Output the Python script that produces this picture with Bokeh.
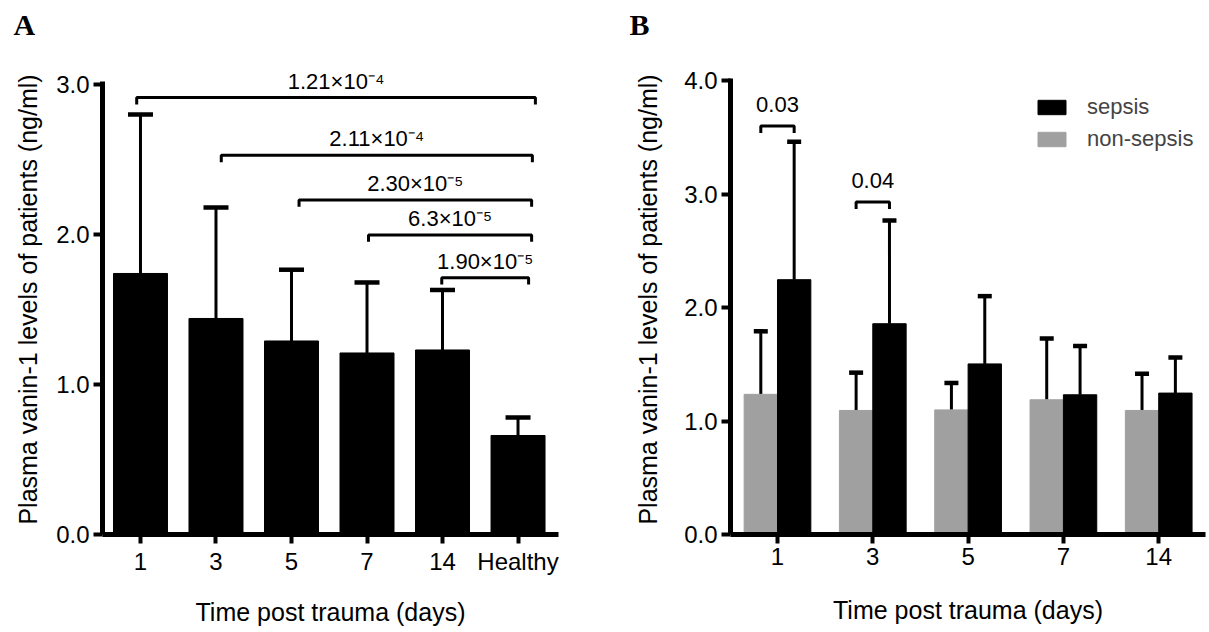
import numpy as np
from bokeh.plotting import figure
from bokeh.models import (Range1d, FixedTicker, ColumnDataSource, Whisker, TeeHead,
                          LabelSet, Title, Legend, LegendItem, PrintfTickFormatter)
from bokeh.layouts import row
from bokeh.embed import file_html
from bokeh.resources import INLINE
from bokeh.core.properties import value

FONT = "Liberation Sans"
GREY = "#a0a0a0"

# ---------------- Panel A data ----------------
cats_a = ["1", "3", "5", "7", "14", "Healthy"]
mean_a = [1.74, 1.44, 1.29, 1.21, 1.23, 0.66]
sd_a = [1.06, 0.74, 0.475, 0.47, 0.40, 0.12]

brk_a_labels = ["1.21×10⁻⁴", "2.11×10⁻⁴", "2.30×10⁻⁵", "6.3×10⁻⁵", "1.90×10⁻⁵"]
brk_a_left = [-0.05, 1.07, 2.10, 3.02, 3.99]
brk_a_right = [5.23, 5.19, 5.18, 5.18, 5.14]
brk_a_y = [2.913, 2.528, 2.23, 1.997, 1.712]

# ---------------- Panel B data ----------------
cats_b = ["1", "3", "5", "7", "14"]
sepsis = [2.245, 1.857, 1.503, 1.231, 1.246]
sepsis_sd = [1.215, 0.91, 0.597, 0.429, 0.313]
nonsepsis = [1.235, 1.093, 1.098, 1.187, 1.093]
nonsepsis_sd = [0.555, 0.333, 0.237, 0.54, 0.324]

brk_b_labels = ["0.03", "0.04"]
brk_b_group = [0, 1]
brk_b_y = [3.60, 2.93]


def style_axes(p, xlabel, ylabel, xticks, xlabels, yticks, ylab_standoff, xlab_standoff):
    for ax in (p.xaxis[0], p.yaxis[0]):
        ax.axis_line_width = 5
        ax.axis_line_color = "black"
        ax.major_tick_line_width = 4
        ax.major_tick_line_color = "black"
        ax.major_tick_out = 9
        ax.major_tick_in = 0
        ax.minor_tick_line_color = None
        ax.major_label_text_font = FONT
        ax.major_label_text_font_size = "24px"
        ax.major_label_text_color = "black"
        ax.major_label_text_line_height = 1.0
        ax.axis_label_text_font = FONT
        ax.axis_label_text_font_size = "25px"
        ax.axis_label_text_font_style = "normal"
        ax.axis_label_text_color = "black"
        ax.axis_label_text_line_height = 1.0
    p.xaxis[0].ticker = FixedTicker(ticks=xticks)
    p.xaxis[0].major_label_overrides = {float(t): l for t, l in zip(xticks, xlabels)}
    p.xaxis[0].major_label_standoff = 4
    p.xaxis[0].axis_label = xlabel
    p.xaxis[0].axis_label_standoff = xlab_standoff
    p.yaxis[0].ticker = FixedTicker(ticks=yticks)
    p.yaxis[0].formatter = PrintfTickFormatter(format="%.1f")
    p.yaxis[0].major_label_standoff = 4
    p.yaxis[0].axis_label = ylabel
    p.yaxis[0].axis_label_standoff = ylab_standoff
    p.xgrid.grid_line_color = None
    p.ygrid.grid_line_color = None
    p.outline_line_color = None
    p.background_fill_color = "white"
    p.border_fill_color = "white"


def panel_letter(p, letter, offset, gap):
    # blank spacer title next to the frame, then the panel letter further out
    p.add_layout(Title(text=" ", text_font_size="2px", standoff=gap), "above")
    p.add_layout(Title(text=letter, align="left", offset=offset, vertical_align="bottom",
                       standoff=0, text_font="Liberation Serif", text_font_style="bold",
                       text_font_size="30px", text_color="black"), "above")


YLABEL = "Plasma vanin-1 levels of patients (ng/ml)"
XLABEL = "Time post trauma (days)"
TOP, BOTTOM = 64, 97      # shared frame borders (frames are aligned in the row)

# ---------------- Panel A ----------------
pa = figure(width=600, height=631, output_backend="svg", toolbar_location=None,
            x_range=Range1d(-0.503, 5.536), y_range=Range1d(0, 3.133),
            min_border_left=102, min_border_right=42, min_border_top=TOP,
            min_border_bottom=BOTTOM)
xa = list(range(len(cats_a)))
src_a = ColumnDataSource(dict(x=xa, mean=mean_a,
                              upper=[m + s for m, s in zip(mean_a, sd_a)]))
pa.vbar(x="x", top="mean", width=0.715, source=src_a, fill_color="black", line_color="black")
pa.add_layout(Whisker(source=src_a, base="x", lower="mean", upper="upper",
                      line_width=3, line_color="black",
                      upper_head=TeeHead(size=25, line_width=4.5, line_color="black"),
                      lower_head=None))
drop_a = 0.046
pa.multi_line(xs=[[l, l, r, r] for l, r in zip(brk_a_left, brk_a_right)],
              ys=[[y - drop_a, y, y, y - drop_a] for y in brk_a_y],
              line_width=3, line_color="black")
lab_a = ColumnDataSource(dict(x=[(l + r) / 2 for l, r in zip(brk_a_left, brk_a_right)],
                              y=brk_a_y, text=brk_a_labels))
pa.add_layout(LabelSet(x="x", y="y", text="text", source=lab_a, y_offset=9,
                       text_align="center", text_baseline="alphabetic",
                       text_font=value(FONT), text_font_size=value("22px"),
                       text_color="black"))
style_axes(pa, XLABEL, YLABEL, xa, cats_a, [0, 1, 2, 3], 11, 20)
pa.yaxis[0].bounds = (0, 3.02)
panel_letter(pa, "A", -89, 20)

# ---------------- Panel B ----------------
pb = figure(width=607, height=631, output_backend="svg", toolbar_location=None,
            x_range=Range1d(-0.493, 4.491), y_range=Range1d(0, 4.141),
            min_border_left=130, min_border_right=2, min_border_top=TOP,
            min_border_bottom=BOTTOM)
xb = np.arange(len(cats_b))
bw = 0.35
src_s = ColumnDataSource(dict(x=xb + bw / 2, mean=sepsis,
                              upper=[m + s for m, s in zip(sepsis, sepsis_sd)]))
src_n = ColumnDataSource(dict(x=xb - bw / 2, mean=nonsepsis,
                              upper=[m + s for m, s in zip(nonsepsis, nonsepsis_sd)]))
rn = pb.vbar(x="x", top="mean", width=bw, source=src_n, fill_color=GREY, line_color=GREY)
rs = pb.vbar(x="x", top="mean", width=bw, source=src_s, fill_color="black", line_color="black")
for src in (src_n, src_s):
    pb.add_layout(Whisker(source=src, base="x", lower="mean", upper="upper",
                          line_width=3, line_color="black",
                          upper_head=TeeHead(size=14, line_width=4.5, line_color="black"),
                          lower_head=None))
drop_b = 0.062
bl = [g - bw / 2 for g in brk_b_group]
br = [g + bw / 2 for g in brk_b_group]
pb.multi_line(xs=[[l, l, r, r] for l, r in zip(bl, br)],
              ys=[[y - drop_b, y, y, y - drop_b] for y in brk_b_y],
              line_width=3, line_color="black")
lab_b = ColumnDataSource(dict(x=list(map(float, brk_b_group)), y=brk_b_y, text=brk_b_labels))
pb.add_layout(LabelSet(x="x", y="y", text="text", source=lab_b, y_offset=14,
                       text_align="center", text_baseline="alphabetic",
                       text_font=value(FONT), text_font_size=value("22px"),
                       text_color="black"))
style_axes(pb, XLABEL, YLABEL, list(range(len(cats_b))), cats_b, [0, 1, 2, 3, 4], 19, 28)
pb.yaxis[0].bounds = (0, 4.02)
panel_letter(pb, "B", -101, 20)
legend = Legend(items=[LegendItem(label="sepsis", renderers=[rs]),
                       LegendItem(label="non-sepsis", renderers=[rn])],
                location=(304, 382), padding=0, margin=0, spacing=6,
                glyph_width=35, glyph_height=18, label_height=26, label_standoff=18,
                label_text_font=FONT, label_text_font_size="22px",
                border_line_color=None, background_fill_alpha=0)
pb.add_layout(legend)

layout = row(pa, pb)
open("out.html", "w").write(file_html(layout, INLINE))
